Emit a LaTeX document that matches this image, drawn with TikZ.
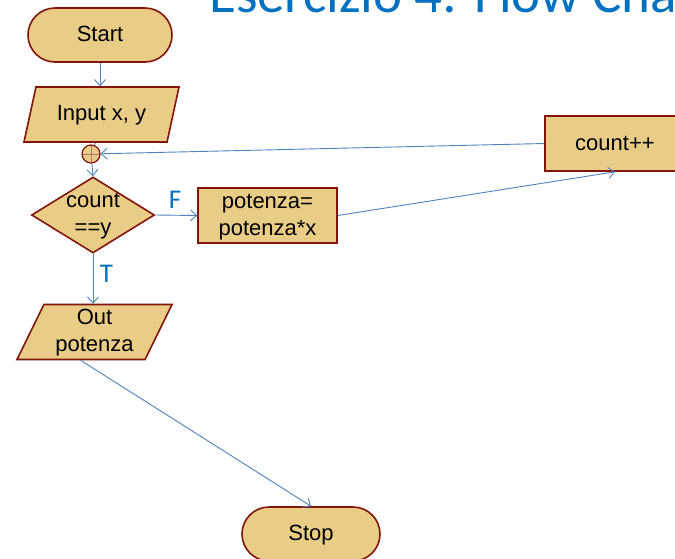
\documentclass[tikz,border=0pt]{standalone}
\usepackage{fontspec}
\setmainfont{Liberation Sans}
\newfontfamily\titlefont{Carlito}
\usetikzlibrary{shapes.geometric,arrows.meta}

\definecolor{boxfill}{RGB}{233,205,134}
\definecolor{boxline}{RGB}{130,20,10}
\definecolor{linkblue}{RGB}{79,129,189}
\definecolor{titleblue}{RGB}{0,112,192}

% one text line, with the height and depth of a full line of the font
\newcommand{\sline}{\rule[-4pt]{0pt}{21pt}}

\tikzset{
  block/.style={draw=boxline, fill=boxfill, line width=1.6pt, align=center,
    font=\fontsize{22}{27}\selectfont, inner sep=0pt},
  terminal/.style={block, rectangle, rounded corners=27pt, minimum height=54pt},
  io/.style={block, trapezium, trapezium left angle=61, trapezium right angle=119,
    trapezium stretches body, minimum width=155pt, minimum height=55pt},
  process/.style={block, rectangle, minimum width=140pt, minimum height=55pt},
  decision/.style={block, diamond, shape aspect=1.6, inner sep=-3pt,
    minimum width=123pt, minimum height=76pt},
  junction/.style={circle, draw=boxline, fill=boxfill, line width=1.2pt,
    minimum size=18pt, inner sep=0pt,
    path picture={\draw[boxline!60, line width=0.5pt]
      (path picture bounding box.north) -- (path picture bounding box.south)
      (path picture bounding box.west) -- (path picture bounding box.east);}},
  link/.style={draw=linkblue, line width=0.9pt},
  arrow/.style={link, -{Straight Barb[length=6pt,width=11pt]}},
  branch/.style={text=titleblue, font=\titlefont\fontsize{27}{30}\selectfont, inner sep=0pt}
}

\begin{document}
\begin{tikzpicture}[x=1pt, y=-1pt]
	\useasboundingbox (0,0) rectangle (675,558);

	\node[anchor=base west, inner sep=0pt, text=titleblue,
	  font=\titlefont\fontsize{55}{60}\selectfont] (title) at (209,12) {Esercizio 4: Flow Chart};

	% blocks
	\node[terminal, minimum width=144pt] (start) at (100,35) {\sline Start};
	\node[io] (input) at (101.5,114.5) {\sline Input x, y};
	\node[junction] (junc) at (91,154) {};
	\node[decision] (cond) at (93,215) {\sline count\\\sline ==y};
	\node[process, minimum width=139pt] (calc) at (267.5,215.5) {\sline potenza=\\\sline potenza*x};
	\node[process] (inc) at (615,143.5) {\sline count++};
	\node[io] (output) at (94.5,332) {\sline Out\\\sline potenza};
	\node[terminal, minimum width=138pt] (stop) at (311,534) {\sline Stop};

	% branch labels
	\node[branch] (lblF) at (175,199.5) {F};
	\node[branch] (lblT) at (106.5,274) {T};

	% connectors
	\draw[arrow] (start.south) -- (start.south |- input.north);
	\draw[link] (input.bottom side) -- (junc);
	\draw[arrow] (junc) -- (cond.north);
	\draw[arrow] (cond.east) -- (calc.west);
	\draw[arrow] (calc.east) -- (inc.south);
	\draw[arrow] (inc.west) -- (junc);
	\draw[arrow] (cond.south) -- (cond.south |- output.north);
	\draw[arrow] (output.bottom side) -- (stop.north);
\end{tikzpicture}
\end{document}
